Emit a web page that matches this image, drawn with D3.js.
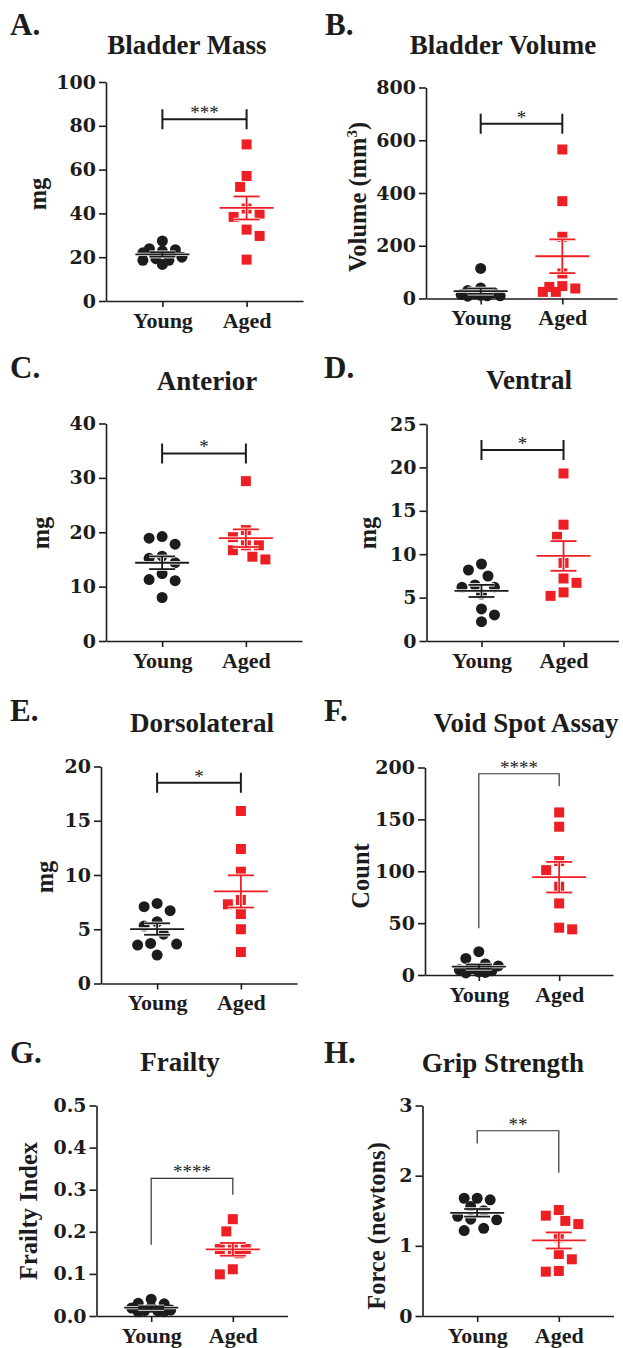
<!DOCTYPE html>
<html>
<head>
<meta charset="utf-8">
<script src="https://cdn.jsdelivr.net/npm/d3@7"></script>
<style>
body { margin: 0; background: #fff; }
svg { display: block; }
</style>
</head>
<body>
<script>
// groups on every x axis
var groups = ["Young", "Aged"];

// A. bladder mass (mg)
var massYoung = [22.8, 23.9, 23.4, 27.4, 22.0, 20.0, 18.6, 16.7, 18.6, 19.3];
var massAged = [71.5, 57.1, 52.1, 42.2, 38.4, 39.9, 32.6, 29.7, 18.9];
var massTicks = [0, 20, 40, 60, 80, 100];

// B. bladder volume (mm3)
var volumeYoung = [114, 40, 30, 22, 18, 15, 12, 10, 10, 9];
var volumeAged = [565, 369, 234, 95, 47, 38, 25, 25, 44];
var volumeTicks = [0, 200, 400, 600, 800];

// C. anterior prostate (mg)
var anteriorYoung = [18.9, 17.8, 19.2, 15.6, 15.2, 14.4, 11.3, 11.1, 12.4, 8.0];
var anteriorAged = [29.4, 20.4, 19.1, 17.6, 16.7, 17.6, 15.0, 15.5];
var anteriorTicks = [0, 10, 20, 30, 40];

// D. ventral prostate (mg)
var ventralYoung = [8.87, 6.45, 7.49, 8.18, 6.18, 6.18, 5.41, 3.69, 3.0, 2.23];
var ventralAged = [19.3, 13.4, 12.0, 9.0, 7.2, 6.7, 5.2, 5.6];
var ventralTicks = [0, 5, 10, 15, 20, 25];

// E. dorsolateral prostate (mg)
var dorsoYoung = [7.38, 6.71, 7.08, 5.29, 5.69, 4.55, 3.54, 3.69, 3.63, 2.62];
var dorsoAged = [15.9, 12.4, 10.3, 7.7, 7.3, 6.4, 5.0, 2.9];
var dorsoTicks = [0, 5, 10, 15, 20];

// F. void spot assay (count)
var voidYoung = [22.5, 16, 10.6, 8.7, 6, 5, 4, 3, 2.5, 2];
var voidAged = [156.7, 142.9, 109.8, 101.1, 85.1, 69, 44, 45.6];
var voidTicks = [0, 50, 100, 150, 200];

// G. frailty index
var frailYoung = [0.040, 0.030, 0.029, 0.021, 0.019, 0.012, 0.010, 0.010, 0.014, 0.013];
var frailAged = [0.230, 0.201, 0.159, 0.159, 0.159, 0.149, 0.111, 0.099];
var frailTicks = [0, 0.1, 0.2, 0.3, 0.4, 0.5];

// H. grip strength (newtons)
var gripYoung = [1.678, 1.655, 1.678, 1.56, 1.50, 1.42, 1.37, 1.38, 1.217, 1.25];
var gripAged = [1.51, 1.43, 1.355, 1.31, 1.12, 0.884, 0.808, 0.632, 0.642];
var gripTicks = [0, 1, 2, 3];

// panel texts
var letters = ["A.", "B.", "C.", "D.", "E.", "F.", "G.", "H."];
var titles = ["Bladder Mass", "Bladder Volume", "Anterior", "Ventral", "Dorsolateral",
              "Void Spot Assay", "Frailty", "Grip Strength"];
var yLabels = ["mg", "Volume (mm|3|)", "mg", "mg", "mg", "Count", "Frailty Index", "Force (newtons)"];

// significance: stars, bracket level, and leg ends (only for the open brackets)
var sigMarks = ["***", "*", "*", "*", "*", "****", "****", "**"];
var sigLevel = [83, 663, 34.5, 22, 18.5, 194, 0.327, 2.64];
var sigLegYoung = [null, null, null, null, null, 45, 0.169, 2.46];
var sigLegAged = [null, null, null, null, null, 182, 0.288, 2.04];

var youngSets = [massYoung, volumeYoung, anteriorYoung, ventralYoung, dorsoYoung, voidYoung, frailYoung, gripYoung];
var agedSets = [massAged, volumeAged, anteriorAged, ventralAged, dorsoAged, voidAged, frailAged, gripAged];
var tickSets = [massTicks, volumeTicks, anteriorTicks, ventralTicks, dorsoTicks, voidTicks, frailTicks, gripTicks];

// layout of each panel in the page (pixels)
var layout = [
    {x0: 106,   w: 197, yTop: 82,     yBot: 301,    tx: 187, ty: 54,     lx: 10,  ly: 35,     yx: 46,  yy: 194},
    {x0: 426,   w: 191, yTop: 87.5,   yBot: 298.5,  tx: 503, ty: 53.5,   lx: 325, ly: 34.5,   yx: 366, yy: 197},
    {x0: 106,   w: 196, yTop: 423.5,  yBot: 641,    tx: 207, ty: 389.5,  lx: 10,  ly: 377.5,  yx: 49,  yy: 533},
    {x0: 426.5, w: 192, yTop: 424,    yBot: 641,    tx: 529, ty: 388.5,  lx: 324, ly: 377.5,  yx: 376, yy: 533},
    {x0: 101,   w: 196, yTop: 766.5,  yBot: 983.5,  tx: 202, ty: 731.5,  lx: 10,  ly: 720.5,  yx: 53,  yy: 877},
    {x0: 425,   w: 188, yTop: 767.5,  yBot: 975,    tx: 526, ty: 731.5,  lx: 324, ly: 720.5,  yx: 369, yy: 876},
    {x0: 96.5,  w: 191, yTop: 1105.5, yBot: 1316,   tx: 180, ty: 1071,   lx: 10,  ly: 1063,   yx: 37,  yy: 1211},
    {x0: 422.5, w: 191, yTop: 1105.5, yBot: 1316,   tx: 503, ty: 1071.5, lx: 324, ly: 1063,   yx: 385, yy: 1226}
];

var ink = "#1c1c1c";
var red = "#ed1f24";
var serif = "'Liberation Serif', 'Times New Roman', serif";
var tickFont = "'DejaVu Serif', serif";

var svg = d3.select("body").append("svg")
    .attr("width", 623)
    .attr("height", 1348);

svg.append("rect").attr("width", 623).attr("height", 1348).attr("fill", "#fff");

// simple swarm: push points sideways so they do not sit on top of each other
function swarm(values, y, step, minDist, maxOff) {
    var order = d3.range(values.length).sort(function(a, b) { return values[b] - values[a]; });
    var placed = [];
    var offs = [];
    var side = -1;
    order.forEach(function(i) {
        var py = y(values[i]);
        var cands = [0];
        for (var k = 1; k * step <= maxOff; k++) {
            cands.push(side * k * step, -side * k * step);
        }
        var best = null, bestD = -1;
        for (var c = 0; c < cands.length; c++) {
            var d = d3.min(placed, function(p) { return Math.hypot(p[0] - cands[c], p[1] - py); });
            if (d === undefined) d = Infinity;
            if (d >= minDist) { best = cands[c]; break; }
            if (d > bestD + 0.5) { bestD = d; best = cands[c]; }
        }
        if (best !== 0) side = -side;
        placed.push([best, py]);
        offs[i] = best;
    });
    return offs;
}

function drawPanel(i) {
    var L = layout[i];
    var ticks = tickSets[i];
    var g = svg.append("g");

    var y = d3.scaleLinear().domain([0, d3.max(ticks)]).range([L.yBot, L.yTop]);
    var x = d3.scalePoint().domain(groups).range([L.x0, L.x0 + L.w]).padding(0.67);
    var fmt = d3.max(ticks) < 1 ? d3.format(".1f") : d3.format("d");

    // y axis
    var ya = g.append("g")
        .attr("transform", "translate(" + L.x0 + ",0)")
        .call(d3.axisLeft(y).tickValues(ticks).tickFormat(fmt)
            .tickSizeInner(7).tickSizeOuter(0).tickPadding(3));
    ya.selectAll("path, line").attr("stroke", ink).attr("stroke-width", 1.6);
    ya.selectAll("text")
        .attr("fill", ink)
        .attr("font-family", tickFont)
        .attr("font-weight", "bold")
        .attr("font-size", "19px");

    // x axis
    var xa = g.append("g")
        .attr("transform", "translate(0," + L.yBot + ")")
        .call(d3.axisBottom(x).tickSizeInner(6).tickSizeOuter(0).tickPadding(5));
    xa.selectAll("path, line").attr("stroke", ink).attr("stroke-width", 1.6);
    xa.selectAll("text")
        .attr("fill", ink)
        .attr("font-family", serif)
        .attr("font-weight", "bold")
        .attr("font-size", "22px");

    // points
    var young = youngSets[i], aged = agedSets[i];
    var yOff = swarm(young, y, 6.5, 12.5, 22);
    var aOff = swarm(aged, y, 6.5, 12.5, 22);

    g.selectAll("circle.young")
        .data(young)
        .enter()
        .append("circle")
        .attr("class", "young")
        .attr("cx", function(d, j) { return x("Young") + yOff[j]; })
        .attr("cy", function(d) { return y(d); })
        .attr("r", 5.5)
        .attr("fill", ink);

    g.selectAll("rect.aged")
        .data(aged)
        .enter()
        .append("rect")
        .attr("class", "aged")
        .attr("x", function(d, j) { return x("Aged") + aOff[j] - 5; })
        .attr("y", function(d) { return y(d) - 5; })
        .attr("width", 10)
        .attr("height", 10)
        .attr("fill", red);

    // mean and SEM
    [[young, "Young", ink], [aged, "Aged", red]].forEach(function(s) {
        var m = d3.mean(s[0]);
        var se = d3.deviation(s[0]) / Math.sqrt(s[0].length);
        var cx = x(s[1]);
        var segs = [
            [cx - 27, y(m), cx + 27, y(m)],
            [cx, y(m - se), cx, y(m + se)],
            [cx - 13, y(m + se), cx + 13, y(m + se)],
            [cx - 13, y(m - se), cx + 13, y(m - se)]
        ];
        [["#fff", 3.4], [s[2], 1.8]].forEach(function(st) {
            g.selectAll(null)
                .data(segs)
                .enter()
                .append("line")
                .attr("x1", function(d) { return d[0]; })
                .attr("y1", function(d) { return d[1]; })
                .attr("x2", function(d) { return d[2]; })
                .attr("y2", function(d) { return d[3]; })
                .attr("stroke", st[0])
                .attr("stroke-width", st[1]);
        });
    });

    // significance bracket
    var xl = x("Young"), xr = x("Aged"), by = y(sigLevel[i]);
    if (sigLegYoung[i] === null) {
        g.append("path")
            .attr("d", "M" + xl + "," + by + "H" + xr +
                "M" + xl + "," + (by - 10) + "V" + (by + 10) +
                "M" + xr + "," + (by - 10) + "V" + (by + 10))
            .attr("fill", "none")
            .attr("stroke", ink)
            .attr("stroke-width", 2);
    } else {
        g.append("path")
            .attr("d", "M" + xl + "," + y(sigLegYoung[i]) + "V" + by + "H" + xr + "V" + y(sigLegAged[i]))
            .attr("fill", "none")
            .attr("stroke", "#333")
            .attr("stroke-width", 1.2);
    }
    g.append("text")
        .attr("x", (xl + xr) / 2)
        .attr("y", by)
        .attr("text-anchor", "middle")
        .attr("font-family", serif)
        .attr("font-size", "19px")
        .attr("fill", ink)
        .text(sigMarks[i]);

    // title
    g.append("text")
        .attr("x", L.tx)
        .attr("y", L.ty)
        .attr("text-anchor", "middle")
        .attr("font-family", serif)
        .attr("font-weight", "bold")
        .attr("font-size", "27px")
        .attr("fill", ink)
        .text(titles[i]);

    // panel letter
    g.append("text")
        .attr("x", L.lx)
        .attr("y", L.ly)
        .attr("font-family", serif)
        .attr("font-weight", "bold")
        .attr("font-size", "31px")
        .attr("fill", ink)
        .text(letters[i]);

    // y axis title (a "|" pair marks a superscript)
    var parts = yLabels[i].split("|");
    var yl = g.append("text")
        .attr("transform", "translate(" + L.yx + "," + L.yy + ") rotate(-90)")
        .attr("text-anchor", "middle")
        .attr("font-family", serif)
        .attr("font-weight", "bold")
        .attr("font-size", "24.5px")
        .attr("fill", ink);
    parts.forEach(function(t, k) {
        var ts = yl.append("tspan").text(t);
        if (k === 1) ts.attr("font-size", "15px").attr("dy", "-9");
        if (k === 2) ts.attr("dy", "9");
    });
}

for (var i = 0; i < layout.length; i++) drawPanel(i);
</script>
</body>
</html>
